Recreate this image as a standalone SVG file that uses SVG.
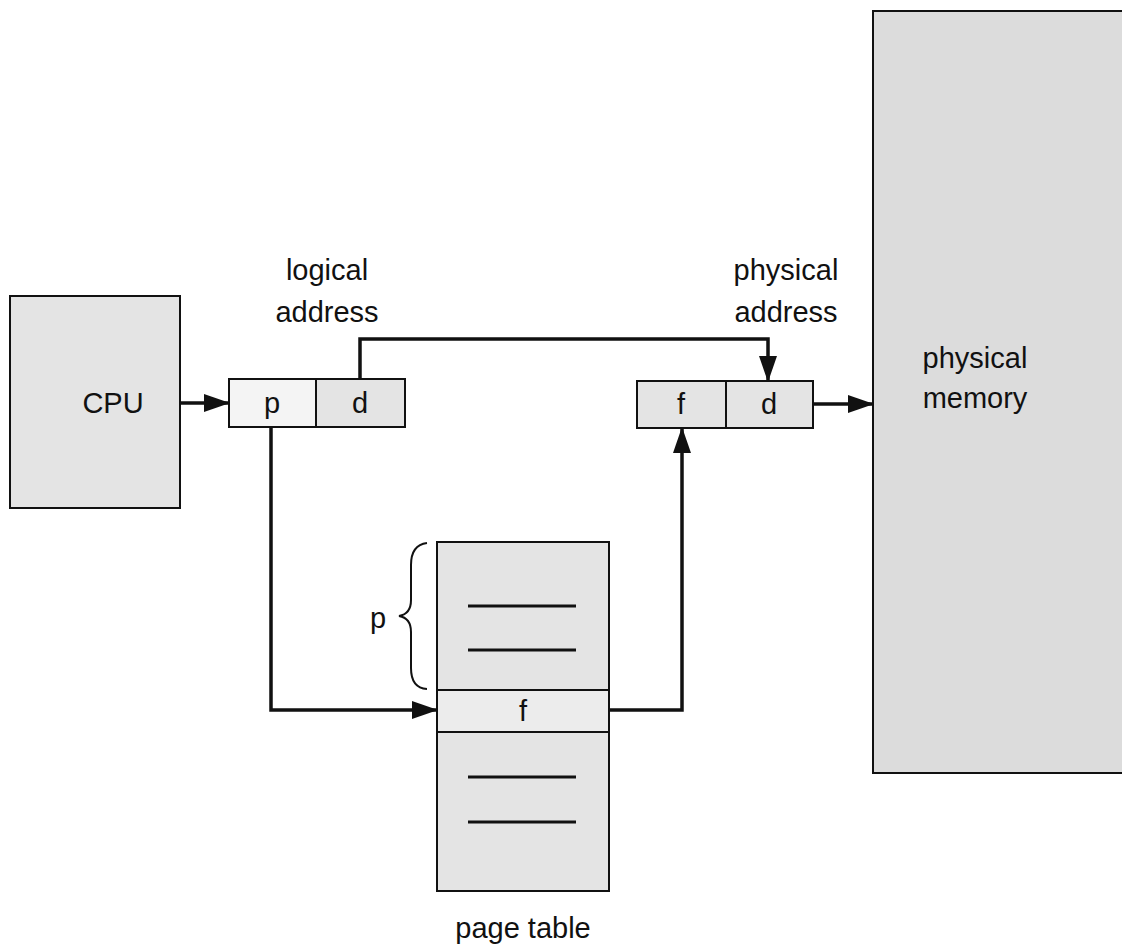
<svg xmlns="http://www.w3.org/2000/svg" width="1122" height="951" viewBox="0 0 1122 951">
<style>
text{font-family:"Liberation Sans",Arial,sans-serif;font-size:29px;fill:#111;text-anchor:middle}
.box{stroke:#111;stroke-width:2;fill:#e4e4e4}
.wbox{stroke:#111;stroke-width:2;fill:#f4f4f4}
.conn{stroke:#111;stroke-width:3.5;fill:none}
.rule{stroke:#111;stroke-width:3}
</style>
<defs>
<marker id="ahb" markerWidth="26" markerHeight="18" refX="25" refY="9" orient="auto" markerUnits="userSpaceOnUse" viewBox="0 0 26 18">
<path d="M0,0 L26,9 L0,18 Z" fill="#111"/>
</marker>
</defs>
<rect width="1122" height="951" fill="#fff"/>
<g id="memory">
<rect class="box" x="873" y="11" width="260" height="762" style="fill:#dcdcdc"/>
<text x="975" y="368">physical</text>
<text x="975" y="408">memory</text>
</g>
<g id="cpu">
<rect class="box" x="10" y="296" width="170" height="212"/>
<text x="113" y="413">CPU</text>
</g>
<g id="logical">
<rect class="wbox" x="229" y="379" width="87" height="48"/>
<rect class="box" x="316" y="379" width="89" height="48"/>
<text x="272" y="413">p</text>
<text x="360" y="413">d</text>
<text x="327" y="280">logical</text>
<text x="327" y="322">address</text>
</g>
<g id="physical">
<rect class="box" x="637" y="381" width="89" height="47"/>
<rect class="box" x="726" y="381" width="87" height="47"/>
<text x="681" y="414">f</text>
<text x="769" y="414">d</text>
<text x="786" y="280">physical</text>
<text x="786" y="322">address</text>
</g>
<g id="pagetable">
<rect class="box" x="437" y="542" width="172" height="349"/>
<rect class="box" x="437" y="690" width="172" height="42" style="fill:#ececec"/>
<line class="rule" x1="468" y1="606" x2="576" y2="606"/>
<line class="rule" x1="468" y1="650" x2="576" y2="650"/>
<line class="rule" x1="468" y1="777" x2="576" y2="777"/>
<line class="rule" x1="468" y1="822" x2="576" y2="822"/>
<text x="523" y="721">f</text>
<path d="M427,543 Q411,545 411,565 L411,600 Q411,614 399,616 Q411,618 411,632 L411,668 Q411,688 427,689" fill="none" stroke="#111" stroke-width="2"/>
<text x="378" y="628">p</text>
<text x="523" y="938">page table</text>
</g>
<g id="connectors">
<line class="conn" x1="180" y1="403" x2="229" y2="403" marker-end="url(#ahb)"/>
<polyline class="conn" points="360,379 360,339 768,339 768,381" marker-end="url(#ahb)"/>
<line class="conn" x1="813" y1="404" x2="873" y2="404" marker-end="url(#ahb)"/>
<polyline class="conn" points="271,427 271,710 437,710" marker-end="url(#ahb)"/>
<polyline class="conn" points="609,710 682,710 682,428" marker-end="url(#ahb)"/>
</g>
</svg>
